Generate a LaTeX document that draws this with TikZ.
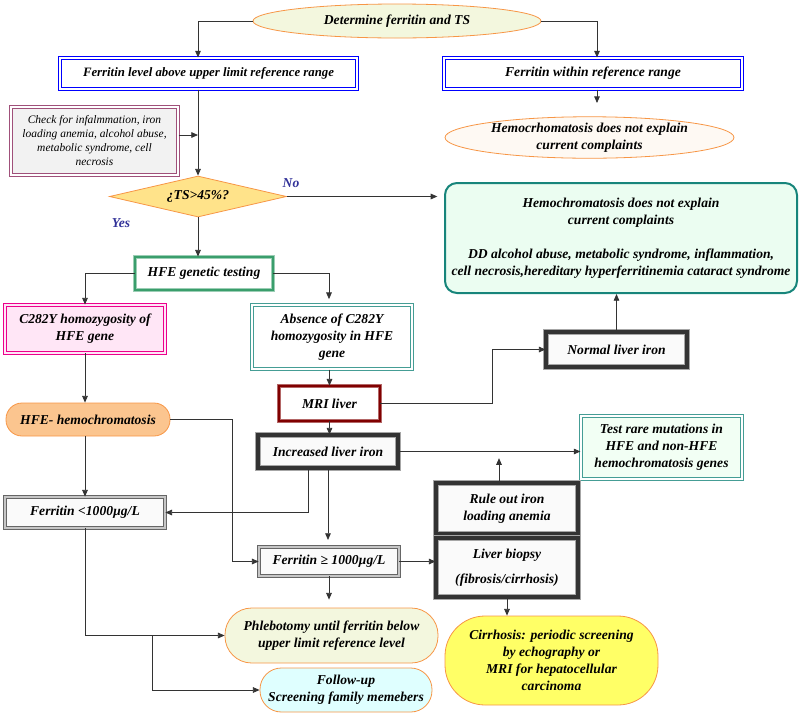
\documentclass[tikz,border=0pt]{standalone}
\usepackage{fontspec}
\setmainfont{Liberation Serif}
\usetikzlibrary{shapes.geometric, arrows.meta, positioning, calc}
\definecolor{orangeline}{HTML}{F79646}
\definecolor{startfill}{HTML}{F3F7DE}
\definecolor{noexpfill}{HTML}{FEF9F3}
\definecolor{checkline}{HTML}{A0507A}
\definecolor{tsfill}{HTML}{FFE38A}
\definecolor{tealline}{HTML}{17857B}
\definecolor{hexpfill}{HTML}{EBFDF1}
\definecolor{hfeline}{HTML}{3A9E6C}
\definecolor{pinkfill}{HTML}{FFE6F6}
\definecolor{hemofill}{HTML}{FBC58F}
\definecolor{testfill}{HTML}{F2FFF4}
\definecolor{followfill}{HTML}{DFFFFF}
\definecolor{cirrfill}{HTML}{FFFF66}
\definecolor{labelblue}{HTML}{333399}
\definecolor{mriline}{HTML}{800000}

\begin{document}
\begin{tikzpicture}[x=0.75pt, y=-0.75pt, >={Triangle[length=5pt, width=4.2pt]},
  font=\fontsize{10.2}{12.75}\selectfont\bfseries\itshape,
  box/.style={rectangle, align=center, inner sep=1pt, fill=white},
  bluebox/.style={box, draw=blue, double=white, double distance=1.4pt, line width=0.8pt},
  darkbox/.style={box, fill=black!2, draw=gray!70, double=black!80, double distance=2.4pt, line width=0.7pt},
  graybox/.style={box, fill=black!2, draw=black!60, double=gray!45, double distance=1.6pt, line width=0.6pt},
  tealbox/.style={box, draw=tealline!80, double=white, double distance=1.2pt, line width=0.8pt},
  pill/.style={rectangle, rounded corners=#1, align=center, inner sep=1pt, draw=orangeline, line width=0.6pt},
  oval/.style={ellipse, align=center, inner sep=0pt, draw=orangeline, line width=0.6pt},
  arrow/.style={->, draw=black!80, line width=0.6pt},
  lbl/.style={text=labelblue}]
\useasboundingbox (0,0) rectangle (800,715);
% top row
\node[oval, fill=startfill, minimum width=216pt, minimum height=25.5pt] (start) at (397,21) {Determine ferritin and TS};
\node[bluebox, minimum width=222.75pt, minimum height=23.25pt, font=\fontsize{9.6}{12}\selectfont\bfseries\itshape] (fhigh) at (208.5,73.5) {Ferritin level above upper limit reference range};
\node[bluebox, minimum width=223.5pt, minimum height=23.25pt] (fnorm) at (593,73.5) {Ferritin within reference range};
\node[oval, fill=noexpfill, minimum width=216.75pt, minimum height=26.25pt] (hnoexp) at (589.5,137.5) {Hemocrhomatosis does not explain\\current complaints};
\node[box, fill=black!5, draw=checkline, double=white, double distance=1pt, line width=0.8pt, minimum width=125.25pt, minimum height=51pt, font=\fontsize{8.6}{10.5}\selectfont\itshape] (check) at (94.5,141) {Check for infalmmation, iron\\loading anemia, alcohol abuse,\\metabolic syndrome, cell\\necrosis};
\node[diamond, draw=orangeline, fill=tsfill, line width=0.6pt, aspect=4.3, inner sep=0pt, minimum width=132.75pt, minimum height=30.75pt] (ts) at (198,196.5) {¿TS>45\%?};
\node[lbl] (no) at (291,183) {No};
\node[lbl] (yes) at (121,223) {Yes};
\node[rectangle, rounded corners=9pt, align=center, draw=tealline, fill=hexpfill, line width=1.5pt, minimum width=264pt, minimum height=82.5pt] (hexp) at (621,238) {Hemochromatosis does not explain\\current complaints\\[12.75pt]DD alcohol abuse, metabolic syndrome, inflammation,\\cell necrosis,hereditary hyperferritinemia cataract syndrome};
% genetic testing
\node[box, draw=hfeline!50, double=hfeline, double distance=2pt, line width=0.6pt, minimum width=103.5pt, minimum height=24.75pt] (hfe) at (204,273.5) {HFE genetic testing};
\node[box, fill=pinkfill, draw=magenta, double=pinkfill, double distance=1.2pt, line width=0.7pt, minimum width=120pt, minimum height=36pt] (c282) at (85,329) {C282Y homozygosity of\\HFE gene};
\node[tealbox, minimum width=120pt, minimum height=48pt] (absence) at (332,337) {Absence of C282Y\\homozygosity in HFE\\gene};
\node[box, draw=mriline!60, double=mriline, double distance=2pt, line width=0.6pt, minimum width=75.75pt, minimum height=26.25pt] (mri) at (329.5,403.5) {MRI liver};
\node[darkbox, minimum width=105.75pt, minimum height=26.25pt] (normal) at (616.5,349.5) {Normal liver iron};
\node[pill=12pt, fill=hemofill, minimum width=123pt, minimum height=24.75pt] (hfehemo) at (88,419.5) {HFE- hemochromatosis};
\node[darkbox, minimum width=105pt, minimum height=24.75pt] (incr) at (328,451.5) {Increased liver iron};
\node[tealbox, fill=testfill, minimum width=120.75pt, minimum height=47.25pt] (test) at (661.5,447.5) {Test rare mutations in\\HFE and non-HFE\\hemochromatosis genes};
\node[darkbox, minimum width=106.5pt, minimum height=38.25pt] (ruleout) at (507,508.5) {Rule out iron\\loading anemia};
\node[graybox, minimum width=120pt, minimum height=23.25pt] (ferlow) at (85,512.5) {Ferritin <1000µg/L};
\node[graybox, minimum width=105pt, minimum height=21.75pt] (fge) at (329,561.5) {Ferritin ≥ 1000µg/L};
\node[darkbox, minimum width=106.5pt, minimum height=44.25pt] (liver) at (507,567.5) {Liver biopsy\\[6pt](fibrosis/cirrhosis)};
% treatment
\node[pill=20pt, fill=startfill, minimum width=159.75pt, minimum height=41.25pt] (phleb) at (331.5,635.5) {Phlebotomy until ferritin below\\upper limit reference level};
\node[pill=16pt, fill=followfill, minimum width=129pt, minimum height=33pt] (follow) at (346,690) {Follow-up\\Screening family memebers};
\node[pill=30pt, fill=cirrfill, minimum width=159.75pt, minimum height=66.75pt] (cirr) at (551.5,660.5) {Cirrhosis: periodic screening\\by echography or\\MRI for hepatocellular\\carcinoma};
% connectors
\coordinate (checkin) at (198,135);
\draw[arrow] (start.west) -| (fhigh.north -| ts.north);
\draw[arrow] (start.east) -| ($(fnorm.north)+(4,0)$);
\draw[arrow, shorten >=10pt] ($(fnorm.south)+(4,0)$) -- ($(hnoexp.north)+(7.5,0)$);
\draw[arrow] (check.east |- checkin) -- (checkin);
\draw[arrow] (fhigh.south -| ts.north) -- (ts.north);
\draw[arrow, shorten >=5pt] (ts.east) -- (ts.east -| hexp.west);
\draw[arrow] (ts.south) -- (ts.south |- hfe.north);
\draw[arrow] (hfe.west) -| (c282.north);
\draw[arrow, shorten >=4pt] (hfe.east) -| ($(absence.north)+(-3,0)$);
\draw[arrow] (c282.south) -- (c282.south |- hfehemo.north);
\draw[arrow] (absence.south -| mri.north) -- (mri.north);
\draw[arrow] (mri.east) -| ($(mri.east)!0.68!(normal.west)$) |- (normal.west);
\draw[arrow] (normal.north) -- (normal.north |- hexp.south);
\draw[arrow] (mri.south) -- (mri.south |- incr.north);
\draw[arrow] (incr.east) -- (incr.east -| test.west);
\draw[arrow] ($(incr.south)+(-20,0)$) |- (ferlow.east);
\draw[arrow, shorten >=5pt] (incr.south) -- (incr.south |- fge.north);
\draw[arrow] (hfehemo.east) -| ($(hfehemo.east)!0.7!(fge.west)$) |- (fge.west);
\draw[arrow] (ferlow.north |- hfehemo.south) -- (ferlow.north);
\draw[arrow, shorten >=5pt] ($(ruleout.north)+(-8,0)$) -- ($(ruleout.north |- incr.east)+(-8,0)$);
\draw[arrow] (fge.east) -- (fge.east -| liver.west);
\draw[arrow, shorten >=6pt] (fge.south) -- (fge.south |- phleb.north);
\draw[arrow] (liver.south) -- (liver.south |- cirr.north);
\draw[arrow] (ferlow.south) |- (phleb.west);
\draw[arrow] ($(ferlow.south |- phleb.west)!0.48!(phleb.west)$) |- (follow.west);
\end{tikzpicture}
\end{document}
